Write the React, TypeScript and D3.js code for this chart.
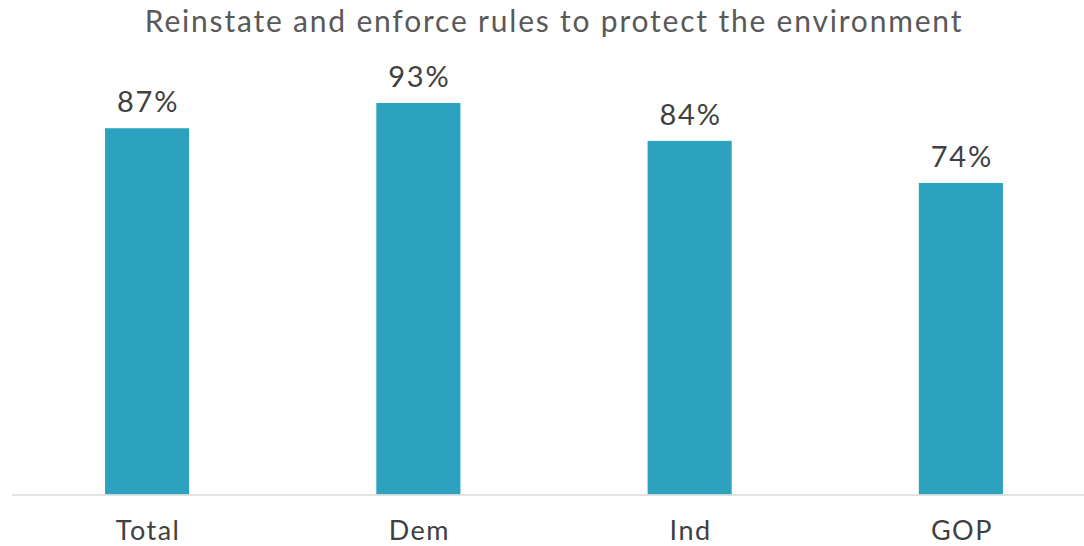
import React from "react";
import * as d3 from "d3";

const categories = ["Total", "Dem", "Ind", "GOP"];
const values = [87, 93, 84, 74];
const title = "Reinstate and enforce rules to protect the environment";

const W = 1084;
const H = 546;
const left = 12;
const right = 1084;
const baseline = 494.5;
const font = "'Lato', 'Noto Sans', sans-serif";

export default function App() {
  const x = d3.scaleBand<string>().domain(categories).range([left, 1096]).paddingInner(0.69).paddingOuter(0.343);
  const y = d3.scaleLinear().domain([0, 100]).range([baseline, baseline - 421]);
  return (
    <svg width={W} height={H} style={{ position: "absolute", left: 0, top: 0, background: "#fff" }}>
      <text x={554} y={32} textAnchor="middle" fontFamily={font} fontSize={30} fill="#595959" letterSpacing={1.8}>
        {title}
      </text>
      {categories.map((c, i) => (
        <g key={c}>
          <rect x={x(c)!} y={y(values[i])} width={x.bandwidth()} height={baseline - y(values[i])} fill="#2CA2BF" />
          <text x={x(c)! + x.bandwidth() / 2 + 1} y={y(values[i]) - 16} textAnchor="middle" fontFamily={font} fontSize={29} fill="#404040" letterSpacing={1.8}>
            {values[i]}%
          </text>
          <text x={x(c)! + x.bandwidth() / 2 + 1} y={540} textAnchor="middle" fontFamily={font} fontSize={27} fill="#404040" letterSpacing={1.5}>
            {c}
          </text>
        </g>
      ))}
      <line x1={left} x2={right} y1={baseline + 0.5} y2={baseline + 0.5} stroke="#D9D9D9" strokeWidth={1.5} />
    </svg>
  );
}
